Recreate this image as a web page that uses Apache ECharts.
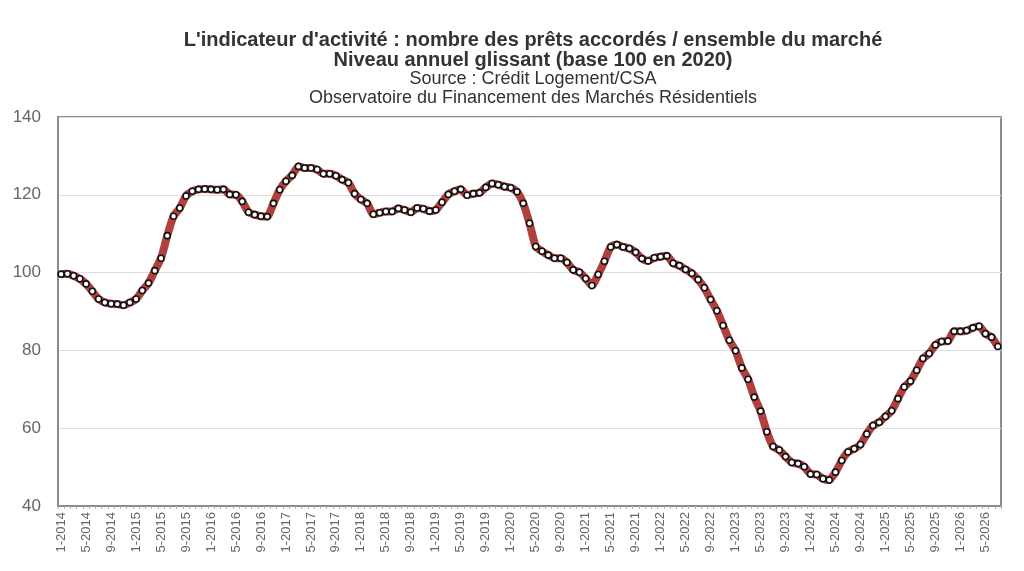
<!DOCTYPE html>
<html>
<head>
    <meta charset="utf-8" />
    <title>Indicateur d'activité</title>
    <script src="https://cdn.jsdelivr.net/npm/echarts@6/dist/echarts.min.js"></script>
    <style type="text/css">
        * { margin: 0; padding: 0; }
        html, body { width: 100%; height: 100%; background: #fff; }
        #chart { width: 1024px; height: 571px; }
    </style>
</head>
<body>
    <div id="chart"></div>
</body>
</html>
<script type="text/javascript">
    // valeurs mensuelles, une ligne par année (janvier -> décembre)
    var v2014 = [99.6, 99.7, 99.2, 98.4, 97.1, 95.2, 93.2, 92.3, 92.0, 91.9, 91.6, 92.3];
    var v2015 = [93.2, 95.4, 97.3, 100.5, 103.7, 109.5, 114.5, 116.6, 119.7, 120.9, 121.4, 121.5];
    var v2016 = [121.4, 121.3, 121.4, 120.1, 120.0, 118.3, 115.5, 114.9, 114.5, 114.4, 117.8, 121.3];
    var v2017 = [123.5, 125.0, 127.3, 126.9, 126.9, 126.5, 125.4, 125.4, 124.9, 123.9, 123.1, 120.3];
    var v2018 = [118.8, 117.8, 115.0, 115.4, 115.7, 115.7, 116.5, 116.1, 115.5, 116.6, 116.4, 115.8];
    var v2019 = [116.1, 118.1, 120.1, 120.9, 121.4, 119.9, 120.3, 120.5, 121.9, 122.9, 122.6, 122.1];
    var v2020 = [121.8, 120.8, 117.8, 112.7, 106.7, 105.5, 104.5, 103.7, 103.7, 102.6, 100.7, 100.1];
    var v2021 = [98.5, 96.7, 99.5, 102.9, 106.6, 107.2, 106.6, 106.2, 105.2, 103.6, 103.0, 103.8];
    var v2022 = [104.1, 104.3, 102.4, 101.8, 100.8, 99.8, 98.2, 96.1, 93.1, 90.2, 86.4, 82.6];
    var v2023 = [79.9, 75.5, 72.6, 68.0, 64.4, 59.1, 55.3, 54.4, 52.7, 51.2, 50.9, 50.1];
    var v2024 = [48.2, 48.1, 47.0, 46.7, 48.7, 51.7, 53.9, 54.7, 55.8, 58.5, 60.7, 61.5];
    var v2025 = [63.0, 64.5, 67.6, 70.6, 72.1, 74.9, 77.9, 79.2, 81.4, 82.3, 82.4, 84.9];
    var v2026 = [84.9, 85.1, 85.8, 86.2, 84.3, 83.4, 81.0];

    var years = [2014, 2015, 2016, 2017, 2018, 2019, 2020, 2021, 2022, 2023, 2024, 2025, 2026];
    var yearValues = [v2014, v2015, v2016, v2017, v2018, v2019, v2020, v2021, v2022, v2023, v2024, v2025, v2026];
    var yTicks = { min: 40, max: 140, step: 20 };

    var months = [];
    var values = [];
    for (var i = 0; i < years.length; i++) {
        for (var m = 0; m < yearValues[i].length; m++) {
            months.push((m + 1) + '-' + years[i]);
            values.push(yearValues[i][m]);
        }
    }

    var font = 'Liberation Sans, Arial, sans-serif';
    var myChart = echarts.init(document.getElementById('chart'));

    var option = {
        animation: false,
        backgroundColor: '#fff',
        title: [
            { text: "L'indicateur d'activité : nombre des prêts accordés / ensemble du marché", left: 528, top: 25, textAlign: 'center',
              textStyle: { fontFamily: font, fontSize: 20, fontWeight: 'bold', color: '#333' } },
            { text: 'Niveau annuel glissant (base 100 en 2020)', left: 528, top: 45, textAlign: 'center',
              textStyle: { fontFamily: font, fontSize: 20, fontWeight: 'bold', color: '#333' } },
            { text: 'Source : Crédit Logement/CSA', left: 528, top: 65, textAlign: 'center',
              textStyle: { fontFamily: font, fontSize: 18, fontWeight: 'normal', color: '#333' } },
            { text: 'Observatoire du Financement des Marchés Résidentiels', left: 528, top: 84, textAlign: 'center',
              textStyle: { fontFamily: font, fontSize: 18, fontWeight: 'normal', color: '#333' } }
        ],
        grid: {
            left: 58, right: 23, top: 117, bottom: 65,
            show: true, borderColor: '#8c8c8c', borderWidth: 2
        },
        xAxis: {
            type: 'category',
            data: months,
            boundaryGap: true,
            axisLine: { lineStyle: { color: '#8c8c8c', width: 2 } },
            axisTick: { show: true, interval: 0, length: 3, lineStyle: { color: '#b0b0b0' } },
            axisLabel: { interval: 3, rotate: 90, fontFamily: font, fontSize: 13, color: '#666', margin: 6 },
            splitLine: { show: false }
        },
        yAxis: {
            type: 'value',
            min: yTicks.min, max: yTicks.max, interval: yTicks.step,
            axisLine: { show: true, lineStyle: { color: '#8c8c8c', width: 2 } },
            axisTick: { show: false },
            axisLabel: { fontFamily: font, fontSize: 17, color: '#666', margin: 17 },
            splitLine: { lineStyle: { color: '#dedede', width: 1 } }
        },
        series: [{
            type: 'line',
            data: values,
            smooth: 0.2,
            showAllSymbol: true,
            symbol: 'circle',
            symbolSize: 6,
            lineStyle: { color: '#b0403d', width: 8 },
            itemStyle: { color: '#ffffff', borderColor: '#111', borderWidth: 1.6 }
        }]
    };
    myChart.setOption(option);
</script>
